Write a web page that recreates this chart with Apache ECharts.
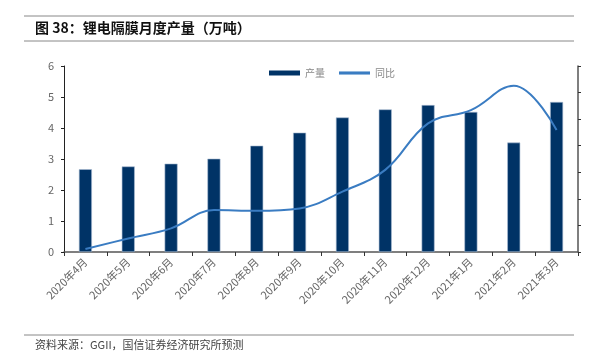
<!DOCTYPE html>
<html>
<head>
<meta charset="utf-8">
<script src="https://cdn.jsdelivr.net/npm/echarts@6/dist/echarts.min.js"></script>
<style>
  html, body { margin: 0; padding: 0; background: #fff; }
  #main { width: 598px; height: 364px; }
</style>
</head>
<body>
<div id="main"></div>
<script>
// 月份
const months = ['2020年4月', '2020年5月', '2020年6月', '2020年7月', '2020年8月', '2020年9月',
  '2020年10月', '2020年11月', '2020年12月', '2021年1月', '2021年2月', '2021年3月'];
// 产量（万吨）
const output = [2.67, 2.76, 2.85, 3.01, 3.43, 3.85, 4.34, 4.60, 4.74, 4.52, 3.53, 4.84];
// 同比（右轴未标注刻度，按图读取的相对位置）
const yoy = [0.11, 0.51, 0.89, 1.58, 1.55, 1.64, 2.27, 3.09, 4.84, 5.34, 6.26, 4.59];

const font = '"Noto Sans CJK SC", "Liberation Sans", sans-serif';
const chart = echarts.init(document.getElementById('main'));

chart.setOption({
  animation: false,
  textStyle: { fontFamily: font },
  graphic: [
    { type: 'line', shape: { x1: 24, y1: 16, x2: 574, y2: 16 }, style: { stroke: '#888', lineWidth: 1 } },
    { type: 'text', left: 35, top: 21, style: { text: '图 38：锂电隔膜月度产量（万吨）', font: 'bold 14px ' + font, fill: '#111' } },
    { type: 'line', shape: { x1: 24, y1: 41, x2: 574, y2: 41 }, style: { stroke: '#888', lineWidth: 1 } },
    { type: 'line', shape: { x1: 24, y1: 335, x2: 574, y2: 335 }, style: { stroke: '#888', lineWidth: 1 } },
    { type: 'text', left: 35, top: 339, style: { text: '资料来源：GGII，国信证券经济研究所预测', font: '11px ' + font, fill: '#444' } }
  ],
  legend: {
    top: 63,
    left: 264,
    itemWidth: 31,
    itemHeight: 5,
    itemGap: 14,
    textStyle: { color: '#888', fontSize: 10, fontFamily: font },
    data: [
      { name: '产量', icon: 'rect', itemStyle: { borderWidth: 0 } },
      { name: '同比', icon: 'path://M0,0 L10,0 L10,1 L0,1 Z' }
    ]
  },
  grid: { left: 64, right: 20, top: 66, bottom: 112 },
  xAxis: {
    type: 'category',
    data: months,
    axisLine: { lineStyle: { color: '#555', width: 1.5 } },
    axisTick: { show: true, length: 4, lineStyle: { color: '#333' } },
    axisLabel: { rotate: 45, color: '#666', fontSize: 11, margin: 8, interval: 0 }
  },
  yAxis: [
    {
      type: 'value', min: 0, max: 6, interval: 1,
      splitLine: { show: false },
      axisLine: { show: true, lineStyle: { color: '#222' } },
      axisTick: { show: true, length: 3, lineStyle: { color: '#222' } },
      axisLabel: { color: '#666', fontSize: 11, margin: 10 }
    },
    {
      type: 'value', min: 0, max: 7, interval: 1,
      splitLine: { show: false },
      axisLine: { show: true, lineStyle: { color: '#555', width: 1.5 } },
      axisTick: { show: true, length: 3, lineStyle: { color: '#333' } },
      axisLabel: { show: false }
    }
  ],
  series: [
    {
      name: '产量',
      type: 'bar',
      data: output,
      barWidth: 13,
      itemStyle: { color: '#003366', borderColor: '#a9bcd3', borderWidth: 0.6 }
    },
    {
      name: '同比',
      type: 'line',
      yAxisIndex: 1,
      data: yoy,
      smooth: 0.4,
      showSymbol: false,
      symbol: 'none',
      lineStyle: { color: '#3a7cc2', width: 2 },
      itemStyle: { color: '#3a7cc2' }
    }
  ]
});
</script>
</body>
</html>
